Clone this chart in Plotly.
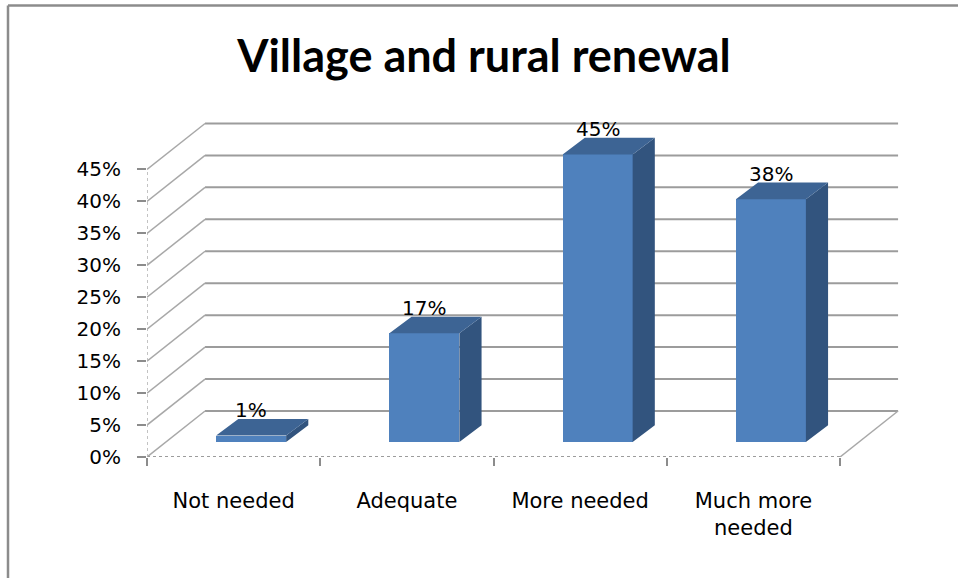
import plotly.graph_objects as go

# ---- data -------------------------------------------------------------
categories = ["Not needed", "Adequate", "More needed", "Much more needed"]
category_ticktext = ["Not needed", "Adequate", "More needed", "Much more<br>needed"]
shares = [1, 17, 45, 38]                      # percent of answers
axis_ticks = [0, 5, 10, 15, 20, 25, 30, 35, 40, 45]
axis_ticktext = [f"{t}%" for t in axis_ticks]

# ---- pseudo-3D geometry (data units) ---------------------------------
WALL_DX, WALL_DY = 0.335, 7.2        # depth of floor / side wall
BAR_DX, BAR_DY = 0.101, 2.35         # front plane of the columns
BAR_W = 0.404
DEPTH_X, DEPTH_Y = 0.128, 2.6        # thickness of each column

X0 = -0.5
X1 = len(categories) - 0.5
X_MAX = X1 + 0.375
Y_MAX = 54.31

FRONT = "#4F81BD"
TOP = "#3D6494"
SIDE = "#32547E"
GRID = "#9c9c9c"
LABEL_FONT = "DejaVu Sans"

W, H = 958, 578
ML, MR, MT, MB = 147, 53, 110, 121
PW, PH = W - ML - MR, H - MT - MB

fig = go.Figure()

# front faces of the columns
fig.add_trace(go.Bar(
    x=[i + BAR_DX for i in range(len(categories))],
    y=shares,
    base=BAR_DY,
    width=BAR_W,
    marker=dict(color=FRONT, line=dict(width=0)),
    hoverinfo="skip",
    showlegend=False,
))

# side and top faces
side_x, side_y, top_x, top_y = [], [], [], []
for i, v in enumerate(shares):
    xl = i + BAR_DX - BAR_W / 2
    xr = i + BAR_DX + BAR_W / 2
    b = BAR_DY
    t = BAR_DY + v
    side_x += [xr, xr + DEPTH_X, xr + DEPTH_X, xr, xr, None]
    side_y += [b, b + DEPTH_Y, t + DEPTH_Y, t, b, None]
    top_x += [xl, xr, xr + DEPTH_X, xl + DEPTH_X, xl, None]
    top_y += [t, t, t + DEPTH_Y, t + DEPTH_Y, t, None]

for xs, ys, col in [(side_x, side_y, SIDE), (top_x, top_y, TOP)]:
    fig.add_trace(go.Scatter(
        x=xs, y=ys, mode="lines", fill="toself", fillcolor=col,
        line=dict(width=0, color=col), hoverinfo="skip", showlegend=False,
    ))

# value labels above each column
for i, v in enumerate(shares):
    fig.add_annotation(
        x=i + BAR_DX, y=BAR_DY + v + DEPTH_Y, text=f"{v}%",
        showarrow=False, xanchor="center", yanchor="bottom", yshift=-5,
        font=dict(family=LABEL_FONT, size=20, color="black"),
    )

# back wall, side wall and floor
shapes = []
for v in axis_ticks:
    shapes.append(dict(type="line", layer="below", xref="x", yref="y",
                       x0=X0 + WALL_DX, y0=v + WALL_DY, x1=X1 + WALL_DX, y1=v + WALL_DY,
                       line=dict(color=GRID, width=2)))
    shapes.append(dict(type="line", layer="below", xref="x", yref="y",
                       x0=X0, y0=v, x1=X0 + WALL_DX, y1=v + WALL_DY,
                       line=dict(color="#a8a8a8", width=1.5)))
shapes.append(dict(type="line", layer="below", xref="x", yref="y",
                   x0=X1, y0=0, x1=X1 + WALL_DX, y1=WALL_DY,
                   line=dict(color="#a8a8a8", width=1.5)))
shapes.append(dict(type="line", layer="below", xref="x", yref="y",
                   x0=X0, y0=0, x1=X1, y1=0,
                   line=dict(color=GRID, width=2, dash="dot")))
shapes.append(dict(type="line", layer="below", xref="x", yref="y",
                   x0=X0, y0=0, x1=X0, y1=axis_ticks[-1],
                   line=dict(color="#b0b0b0", width=1.5, dash="dot")))


# outer chart frame (top and left edges)
def px_x(p):
    return (p - ML) / PW


def px_y(p):
    return (H - MB - p) / PH


shapes.append(dict(type="line", xref="paper", yref="paper",
                   x0=px_x(8), y0=px_y(5.5), x1=px_x(W + 5), y1=px_y(5.5),
                   line=dict(color="#8c8c8c", width=2.5)))
shapes.append(dict(type="line", xref="paper", yref="paper",
                   x0=px_x(8), y0=px_y(5.5), x1=px_x(8), y1=px_y(H + 5),
                   line=dict(color="#8c8c8c", width=2.5)))

fig.update_layout(
    width=W, height=H,
    margin=dict(l=ML, r=MR, t=MT, b=MB),
    paper_bgcolor="white", plot_bgcolor="white",
    shapes=shapes,
    bargap=0,
    title=dict(text="<b>Village and rural renewal</b>",
               font=dict(family="Lato", size=45, color="black"),
               x=484 / W, xanchor="center", xref="container",
               y=1 - 56 / H, yanchor="middle", yref="container"),
    xaxis=dict(range=[X0, X_MAX], showgrid=False, zeroline=False, showline=False,
               tickvals=list(range(len(categories))), ticktext=category_ticktext,
               ticks="", ticklabelstandoff=29,
               tickfont=dict(family=LABEL_FONT, size=21, color="black"),
               minor=dict(tickvals=[X0 + k for k in range(len(categories) + 1)],
                          ticks="outside", ticklen=8, tickwidth=2, tickcolor="#8c8c8c",
                          showgrid=False)),
    yaxis=dict(range=[0, Y_MAX], showgrid=False, zeroline=False, showline=False,
               tickvals=axis_ticks, ticktext=axis_ticktext,
               ticks="outside", ticklen=9, tickwidth=2, tickcolor="#8c8c8c",
               ticklabelstandoff=12,
               tickfont=dict(family=LABEL_FONT, size=20, color="black")),
)

fig.write_html("out.html")
